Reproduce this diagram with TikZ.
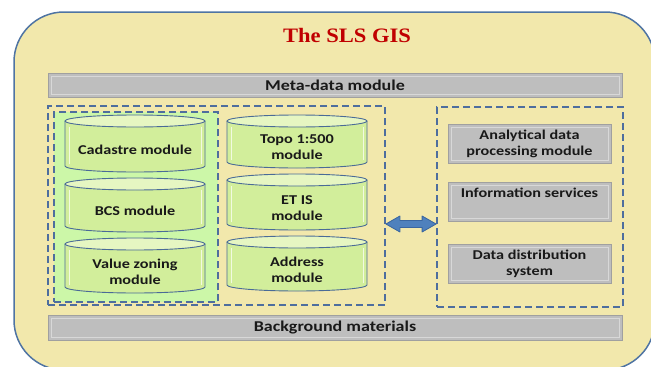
\documentclass[tikz,border=0pt]{standalone}
\usepackage{fontspec}
\usetikzlibrary{calc}
\newfontfamily\calfont[FakeStretch=1.2]{Carlito}
\newfontfamily\titlefont[FakeStretch=1.1]{Liberation Serif}
\definecolor{bgk}{HTML}{F2E8AC}
\definecolor{outerb}{HTML}{4F74A3}
\definecolor{greenr}{HTML}{CCF7A8}
\definecolor{cylb}{HTML}{D2EE9B}
\definecolor{cylt}{HTML}{E6F6C2}
\definecolor{cylo}{HTML}{4A6B97}
\definecolor{grayf}{HTML}{BEBEBE}
\definecolor{grayb}{HTML}{A0A0A0}
\definecolor{grayi}{HTML}{D8D8D8}
\definecolor{dashc}{HTML}{4E6E9E}
\definecolor{arrf}{HTML}{4F81BD}
\definecolor{arrd}{HTML}{3A66A0}
\definecolor{titc}{HTML}{C00000}
\tikzset{
  modtext/.style={font=\calfont\bfseries\fontsize{13.5}{16}\selectfont, align=center, text=black!90, inner sep=0pt},
  bartext/.style={font=\calfont\bfseries\fontsize{15}{18}\selectfont, text=black!90},
  graybox/.style={draw=grayb, fill=grayf, line width=0.6pt, inner sep=0pt,
    path picture={\draw[grayi, line width=0.9pt] ([shift={(3pt,-3pt)}]path picture bounding box.north west) rectangle ([shift={(-3pt,3pt)}]path picture bounding box.south east);}},
  dashbox/.style={draw=dashc, line width=1.8pt, dash pattern=on 7pt off 4pt, inner sep=0pt},
  cylbody/.style={fill=cylb, draw=cylo, line width=0.9pt},
  cyltop/.style={fill=cylt, draw=cylo, line width=0.9pt},
}
\newcommand\mycyl[6]{% name, xc, rx, ytop, ybot, text
  \filldraw[cylbody] (#2-#3,#4+6) -- (#2-#3,#5-6) arc[start angle=180,end angle=0,x radius=#3,y radius=6] -- (#2+#3,#4+6);
  \draw[white!70!cylb, line width=0.7pt] (#2-#3+4,#4+12) -- (#2-#3+4,#5-8) (#2+#3-4,#4+12) -- (#2+#3-4,#5-8);
  \filldraw[cyltop] (#2,#4+6) ellipse[x radius=#3, y radius=6];
  \node[modtext] (#1) at (#2,{(#4+12+#5)/2}) {#6};
}
\begin{document}
\begin{tikzpicture}[x=1pt,y=-1pt]
\useasboundingbox (0,0) rectangle (651,367);
% outer frame
\node[draw=outerb, fill=bgk, line width=1.5pt, rounded corners=50pt, minimum width=641pt, minimum height=358pt, inner sep=0pt] (frame) at (334.5,191) {};
\node[font=\titlefont\bfseries\fontsize{20.5}{24}\selectfont, text=titc] (title) at (347,35) {The SLS GIS};
% bars
\node[graybox, minimum width=574pt, minimum height=24pt] (meta) at (335,85) {};
\node[bartext] (metat) at (meta.center) {Meta-data module};
\node[graybox, minimum width=574pt, minimum height=25pt] (back) at (335,327.5) {};
\node[bartext] (backt) at (back.center) {Background materials};
% left dashed box
\node[dashbox, minimum width=337pt, minimum height=199pt] (L) at (216.5,205.5) {};
\node[dashbox, fill=greenr, minimum width=164pt, minimum height=190pt] (G) at (136,207) {};
% cylinders
\mycyl{cad}{135}{70}{115}{172}{Cadastre module}
\mycyl{bcs}{135}{70}{178}{232}{BCS module}
\mycyl{val}{135}{70}{238}{293}{Value zoning\\module}
\mycyl{topo}{297}{70}{115}{168}{Topo 1:500\\module}
\mycyl{etis}{297}{70}{174}{230}{ET IS\\module}
\mycyl{addr}{297}{70}{236}{291}{Address\\module}
% right dashed box
\node[dashbox, minimum width=186pt, minimum height=200pt] (R) at (530,207) {};
\node[graybox, minimum width=163pt, minimum height=39pt] (ana) at (529.5,144) {};
\node[modtext] (anat) at (ana.center) {Analytical data\\processing module};
\node[graybox, minimum width=163pt, minimum height=39pt] (info) at (529.5,201.5) {};
\node[modtext, anchor=north] (infot) at ([yshift=-6pt]info.north) {Information services};
\node[graybox, minimum width=163pt, minimum height=39pt] (dds) at (529.5,263.5) {};
\node[modtext] (ddst) at (dds.center) {Data distribution\\system};
% double arrow
\coordinate (a1) at (L.east |- 0,224);
\coordinate (a2) at (R.west |- 0,224);
\filldraw[fill=arrf, draw=arrd, line width=0.8pt, line join=round]
  (a1) -- ($(a1)+(14,-8)$) -- ($(a1)+(14,-3.5)$) -- ($(a2)+(-14,-3.5)$) -- ($(a2)+(-14,-8)$) -- (a2)
  -- ($(a2)+(-14,8)$) -- ($(a2)+(-14,3.5)$) -- ($(a1)+(14,3.5)$) -- ($(a1)+(14,8)$) -- cycle;
\end{tikzpicture}
\end{document}
